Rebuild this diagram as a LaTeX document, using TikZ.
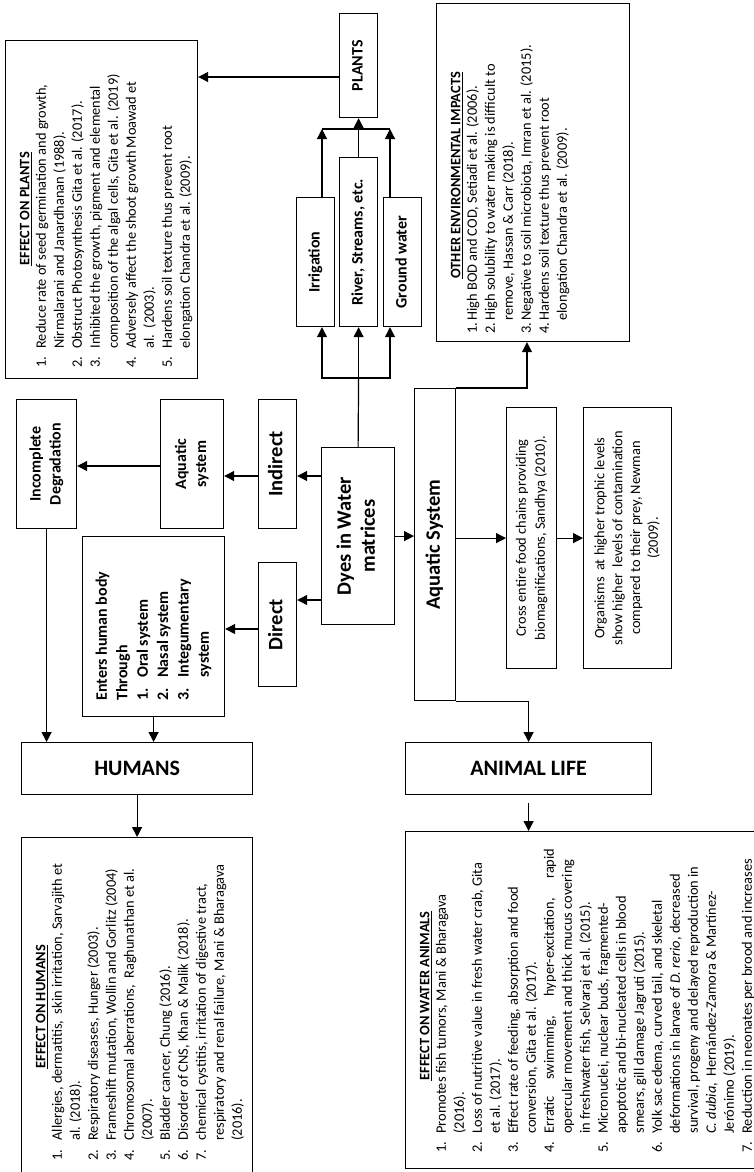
\documentclass[tikz,border=0pt]{standalone}
\usepackage{fontspec}
\usepackage{graphicx}
\setmainfont{Carlito}
\usetikzlibrary{arrows.meta}

% hanging-indent list items used inside the rotated text boxes
\newlength\hng
\newcommand\itm[2]{\par\hangindent=\hng\hangafter=1\noindent\makebox[\hng][l]{#1.}#2}
\newcommand\ttl[2]{\noindent\hspace*{#1}\textbf{\underline{#2}}\par\vspace{-1.5pt}}
% #1 box width, #2 box height, #3 gap above title, #4 left pad, #5 hang, #6 body
\newcommand\vlist[6]{\rotatebox{90}{\parbox[c][#1][t]{#2}{%
  \parindent=0pt\parskip=0pt\fontsize{14.4}{18}\selectfont\raggedright
  \leftskip=#4\relax\hng=#5\relax\vspace*{#3}#6\par}}}
% centred label turned upright
\newcommand\vlab[1]{\rotatebox{90}{\begin{tabular}{@{}c@{}}#1\end{tabular}}}

\begin{document}
\begin{tikzpicture}[x=1pt,y=-1pt,
  box/.style={draw=black,line width=1.2pt,inner sep=0pt,anchor=north west,align=center},
  labS/.style={font=\bfseries\fontsize{16}{20}\selectfont},
  labL/.style={font=\bfseries\fontsize{20.5}{24}\selectfont},
  labH/.style={font=\bfseries\fontsize{22}{26}\selectfont},
  ln/.style={line width=1.2pt},
  arr/.style={line width=1.2pt,-{Triangle[length=10pt,width=10pt]}}]
\useasboundingbox (0,0) rectangle (754,1172);
\fill[white] (0,0) rectangle (754,1172);
\begin{scope}
\clip (0,0) rectangle (754,1172);

% ---------- effect boxes ----------
\node[box] (effplants) at (5,40) {\vlist{192pt}{338pt}{14.3pt}{11pt}{19pt}{%
  \ttl{102pt}{EFFECT ON PLANTS}
  \itm{1}{Reduce rate of seed germination and growth,\newline Nirmalarani and Janardhanan (1988).}
  \itm{2}{Obstruct Photosynthesis Gita et al. (2017).}
  \itm{3}{Inhibited the growth, pigment and elemental\newline composition of the algal cells, Gita et al. (2019)}
  \itm{4}{Adversely affect the shoot growth Moawad et\newline al.\ \ (2003).}
  \itm{5}{Hardens soil texture thus prevent root\newline elongation Chandra et al. (2009).}}};

\node[box] (other) at (436,3) {\vlist{193pt}{338pt}{14.3pt}{8pt}{13pt}{%
  \ttl{55pt}{OTHER ENVIRONMENTAL IMPACTS}
  \itm{1}{High BOD and COD, Setiadi et al. (2006).}
  \itm{2}{High solubility to water making is difficult to\newline remove, Hassan \& Carr (2018).}
  \itm{3}{Negative to soil microbiota, Imran et al. (2015).}
  \itm{4}{Hardens soil texture thus prevent root\newline elongation Chandra et al. (2009).}}};

\node[box] (effhumans) at (21,837) {\vlist{231pt}{338pt}{14.3pt}{15pt}{20pt}{%
  \ttl{92pt}{EFFECT ON HUMANS}
  \itm{1}{Allergies, dermatitis,\ \ skin irritation, Sarvajith et\newline al. (2018).}
  \itm{2}{Respiratory diseases, Hunger (2003).}
  \itm{3}{Frameshift mutation, Wollin and Gorlitz (2004)}
  \itm{4}{Chromosomal aberrations,\ \ Raghunathan et al.\newline (2007).}
  \itm{5}{Bladder cancer, Chung (2016).}
  \itm{6}{Disorder of CNS, Khan \& Malik (2018).}
  \itm{7}{chemical cystitis, irritation of digestive tract,\newline respiratory and renal failure, Mani \& Bharagava\newline (2016).}}};

\node[box] (effanimals) at (405,831) {\vlist{372pt}{337pt}{14.3pt}{16pt}{19pt}{%
  \ttl{72pt}{EFFECT ON WATER ANIMALS}
  \itm{1}{Promotes fish tumors, Mani \& Bharagava\newline (2016).}
  \itm{2}{Loss of nutritive value in fresh water crab, Gita\newline et al. (2017).}
  \itm{3}{Effect rate of feeding, absorption and food\newline conversion, Gita et al. (2017).}
  \itm{4}{\makebox[285pt][s]{Erratic swimming, hyper-excitation, rapid}\newline opercular movement and thick mucus covering\newline in freshwater fish, Selvaraj et al. (2015).}
  \itm{5}{Micronuclei, nuclear buds, fragmented-\newline apoptotic and bi-nucleated cells in blood\newline smears, gill damage Jagruti (2015).}
  \itm{6}{Yolk sac edema, curved tail, and skeletal\newline deformations in larvae of \textit{D. rerio}, decreased\newline survival, progeny and delayed reproduction in\newline \textit{C. dubia},\ \ Hernández-Zamora \& Martínez-\newline Jerónimo (2019).}
  \itm{7}{Reduction in neonates per brood and increases}}};

% ---------- plants branch ----------
\node[box,labS,minimum width=38pt,minimum height=104pt] (plants) at (339,13) {\vlab{PLANTS}};
\node[box,labS,minimum width=38pt,minimum height=129pt] (irr) at (296,197) {\vlab{Irrigation}};
\node[box,labS,minimum width=38pt,minimum height=169pt] (river) at (339,157) {\vlab{River, Streams, etc.}};
\node[box,labS,minimum width=38pt,minimum height=129pt] (gw) at (383,197) {\vlab{Ground water}};

% ---------- central and left branch ----------
\node[box,labL,minimum width=73pt,minimum height=177pt] (dyes) at (321,447) {\vlab{Dyes in Water\\matrices}};
\node[box,labL,minimum width=38pt,minimum height=129pt] (indirect) at (258,399) {\vlab{Indirect}};
\node[box,labL,minimum width=38pt,minimum height=124pt] (direct) at (258,562) {\vlab{Direct}};
\node[box,labS,minimum width=63pt,minimum height=129pt] (aqsys) at (160,399) {\vlab{Aquatic\\system}};
\node[box,labS,minimum width=60pt,minimum height=129pt] (incomp) at (16,399) {\vlab{Incomplete\\Degradation}};
\node[box,minimum width=142pt,minimum height=180pt,font=\bfseries\fontsize{16}{20.4}\selectfont] (enters) at (82,536)
  {\rotatebox{90}{\parbox{180pt}{\raggedright\leftskip=16pt\hng=23pt\relax
   \noindent Enters human body\newline Through
   \itm{1}{Oral system}
   \itm{2}{Nasal system}
   \itm{3}{Integumentary\newline system}\par}}};
\node[box,labH,minimum width=231pt,minimum height=52pt] (humans) at (21,742) {HUMANS};

% ---------- aquatic branch ----------
\node[box,labL,minimum width=41pt,minimum height=312pt] (aqs) at (414,388) {\vlab{Aquatic System}};
\node[box,minimum width=50pt,minimum height=261pt,font=\fontsize{14.4}{19}\selectfont] (cross) at (506,407)
  {\vlab{Cross entire food chains providing\\biomagnifications, Sandhya (2010).}};
\node[box,minimum width=88pt,minimum height=261pt,font=\fontsize{14.4}{17.8}\selectfont] (org) at (583,407)
  {\vlab{Organisms\ \ at higher trophic levels\\show higher\ \ levels of contamination\\compared to their prey, Newman\\(2009).}};
\node[box,labH,minimum width=246pt,minimum height=52pt] (animal) at (405,742) {ANIMAL LIFE};

% ---------- connectors ----------
\draw[arr] (plants.west |- 0,77) -- (effplants.east |- 0,77);

\coordinate (topbar) at (river.north |- 0,129);
\coordinate (botbar) at (river.south |- 0,378);
\draw[ln] (topbar -| 322,0) -- (topbar -| 390,0);
\draw[arr] (irr.north -| 322,0) -- (topbar -| 322,0);
\draw[arr] (gw.north -| 390,0) -- (topbar -| 390,0);
\draw[arr] (river.north) -- (plants.south);
\draw[ln] (dyes.north) -- (botbar);
\draw[arr] (botbar) -| (irr.south -| 322,0);
\draw[arr] (botbar) -| (gw.south -| 390,0);
\draw[arr] (botbar) -- (river.south);

\draw[arr] (aqs.north east) -| (other.south -| 527,0);
\draw[arr] (aqs.south east) -| (animal.north);
\draw[arr] (dyes.east) -- (aqs.west |- dyes.east);
\draw[arr] (aqs.east |- cross.west) -- (cross.west);
\draw[arr] (cross.east) -- (org.west);
\draw[arr,shorten <=8pt] (animal.south) -- (animal.south |- effanimals.north);

\draw[arr] (dyes.west |- 0,476) -- (indirect.east |- 0,476);
\draw[arr] (indirect.west |- 0,476) -- (aqsys.east |- 0,476);
\draw[arr] (aqsys.west |- 0,466) -- (incomp.east |- 0,466);
\draw[arr] (dyes.west |- 0,600) -- (direct.east |- 0,600);
\draw[arr] (direct.west |- 0,629) -- (enters.east |- 0,629);
\draw[arr] (enters.south) -- (enters.south |- humans.north);
\draw[arr] (incomp.south) -- (incomp.south |- humans.north);
\draw[arr] (humans.south) -- (effhumans.north);
\end{scope}
\end{tikzpicture}
\end{document}
